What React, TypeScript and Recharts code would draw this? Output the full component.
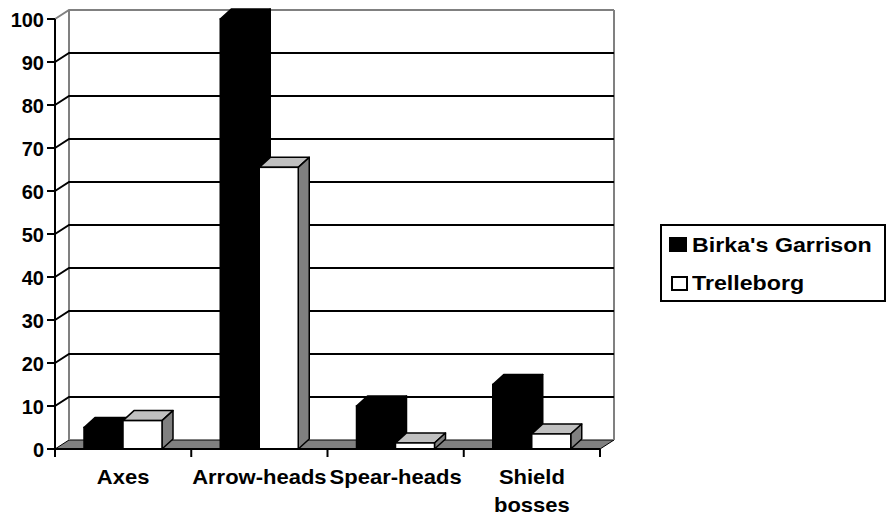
import React from 'react';
import { BarChart, Bar, XAxis, YAxis, CartesianGrid } from 'recharts';

const categories = ['Axes', 'Arrow-heads', 'Spear-heads', 'Shield bosses'];
const birkaValues = [5, 100, 10, 15];
const trelleborgValues = [6.6, 65.5, 1.4, 3.5];
const seriesNames = ["Birka's Garrison", 'Trelleborg'];
const yTicks = [0, 10, 20, 30, 40, 50, 60, 70, 80, 90, 100];

const data = categories.map((c, i) => ({
  category: c,
  birka: birkaValues[i],
  trelleborg: trelleborgValues[i],
}));

const W = 887;
const H = 517;
const PLOT_LEFT = 55;
const PLOT_RIGHT = 600;
const PLOT_TOP = 19;
const PLOT_BOTTOM = 449;
const WALL_DX = 14;
const WALL_DY = 9;
const BAR_DX = 11;
const BAR_DY = 10;
const BAND = (PLOT_RIGHT - PLOT_LEFT) / categories.length;
const FONT = '"Liberation Sans", Arial, Helvetica, sans-serif';

const gridLine = (props: any) => {
  const { x1, x2, y1, index } = props;
  const y = y1;
  if (Math.abs(y - PLOT_BOTTOM) < 1) {
    return (
      <g key={`floor-${index}`}>
        <polygon
          points={`${x1},${y} ${x2},${y} ${x2 + WALL_DX},${y - WALL_DY} ${x1 + WALL_DX},${y - WALL_DY}`}
          fill="#808080"
          stroke="#000"
          strokeWidth={1}
        />
        <line x1={x1 + WALL_DX} y1={y - WALL_DY} x2={x1 + WALL_DX} y2={PLOT_TOP - WALL_DY} stroke="#808080" strokeWidth={2} />
        <line x1={x2 + WALL_DX} y1={y - WALL_DY} x2={x2 + WALL_DX} y2={PLOT_TOP - WALL_DY} stroke="#808080" strokeWidth={2} />
      </g>
    );
  }
  const isTop = Math.abs(y - PLOT_TOP) < 1;
  return (
    <polyline
      key={`gl-${index}`}
      points={`${x1},${y} ${x1 + WALL_DX},${y - WALL_DY} ${x2 + WALL_DX},${y - WALL_DY}`}
      fill="none"
      stroke={isTop ? '#808080' : '#000'}
      strokeWidth={2}
    />
  );
};

const make3DBar = (front: string, top: string, side: string) => (props: any) => {
  const { x, y, width, height } = props;
  if (width == null || height == null) return <g />;
  const x2 = x + width;
  const yb = y + height;
  return (
    <g>
      <polygon
        points={`${x},${y} ${x + BAR_DX},${y - BAR_DY} ${x2 + BAR_DX},${y - BAR_DY} ${x2},${y}`}
        fill={top}
        stroke="#000"
        strokeWidth={1.5}
        strokeLinejoin="round"
      />
      <polygon
        points={`${x2},${y} ${x2 + BAR_DX},${y - BAR_DY} ${x2 + BAR_DX},${yb - BAR_DY} ${x2},${yb}`}
        fill={side}
        stroke="#000"
        strokeWidth={1.5}
        strokeLinejoin="round"
      />
      <rect x={x} y={y} width={width} height={height} fill={front} stroke="#000" strokeWidth={1.5} />
    </g>
  );
};

const BirkaShape = make3DBar('#000', '#000', '#000');
const TrelleborgShape = make3DBar('#fff', '#c0c0c0', '#808080');

const YTick = (props: any) => {
  const { y, payload } = props;
  return (
    <g>
      <line x1={47} y1={y} x2={PLOT_LEFT} y2={y} stroke="#000" strokeWidth={2} />
      <text x={44} y={y + 7.5} textAnchor="end" fontFamily={FONT} fontWeight="bold" fontSize={20} fill="#000">
        {payload.value}
      </text>
    </g>
  );
};

const XTick = (props: any) => {
  const { x, payload, index } = props;
  const half = BAND / 2;
  const lines = String(payload.value).split(' ');
  return (
    <g>
      <line x1={x - half} y1={PLOT_BOTTOM} x2={x - half} y2={PLOT_BOTTOM + 8} stroke="#000" strokeWidth={2} />
      {index === categories.length - 1 && (
        <line x1={x + half} y1={PLOT_BOTTOM} x2={x + half} y2={PLOT_BOTTOM + 8} stroke="#000" strokeWidth={2} />
      )}
      {lines.map((l, i) => (
        <text
          key={i}
          transform={`translate(${x},${483.5 + i * 28.5}) scale(1.1,1)`}
          textAnchor="middle"
          fontFamily={FONT}
          fontWeight="bold"
          fontSize={20}
          fill="#000"
        >
          {l}
        </text>
      ))}
    </g>
  );
};

const legendText: React.CSSProperties = {
  position: 'absolute',
  fontFamily: FONT,
  fontWeight: 'bold',
  fontSize: 20,
  lineHeight: '20px',
  whiteSpace: 'nowrap',
  transform: 'scaleX(1.16)',
  transformOrigin: 'left center',
  color: '#000',
};

export default function App() {
  return (
    <div style={{ position: 'absolute', left: 0, top: 0, width: W, height: H, background: '#fff', overflow: 'hidden' }}>
      <BarChart
        width={W}
        height={H}
        data={data}
        margin={{ top: PLOT_TOP, right: W - PLOT_RIGHT, left: 0, bottom: 9 }}
        barGap={0}
        barSize={39}
      >
        <CartesianGrid horizontal={gridLine} vertical={false} />
        <XAxis
          dataKey="category"
          height={H - PLOT_BOTTOM - 9}
          interval={0}
          tickLine={false}
          axisLine={{ stroke: '#000', strokeWidth: 2 }}
          tick={<XTick />}
        />
        <YAxis
          width={PLOT_LEFT}
          domain={[0, 100]}
          ticks={yTicks}
          interval={0}
          tickLine={false}
          axisLine={{ stroke: '#000', strokeWidth: 2 }}
          tick={<YTick />}
        />
        <Bar dataKey="birka" name={seriesNames[0]} fill="#000" shape={BirkaShape} isAnimationActive={false} />
        <Bar dataKey="trelleborg" name={seriesNames[1]} fill="#fff" shape={TrelleborgShape} isAnimationActive={false} />
      </BarChart>
      <div
        style={{
          position: 'absolute',
          left: 660,
          top: 224,
          width: 226,
          height: 78,
          border: '2px solid #000',
          boxSizing: 'border-box',
          background: '#fff',
        }}
      />
      <div style={{ position: 'absolute', left: 669, top: 237, width: 18, height: 15, background: '#000' }} />
      <div style={{ ...legendText, left: 692, top: 235 }}>{seriesNames[0]}</div>
      <div
        style={{
          position: 'absolute',
          left: 671,
          top: 276,
          width: 17,
          height: 15,
          background: '#fff',
          border: '2px solid #000',
          boxSizing: 'border-box',
        }}
      />
      <div style={{ ...legendText, left: 692, top: 273 }}>{seriesNames[1]}</div>
    </div>
  );
}
